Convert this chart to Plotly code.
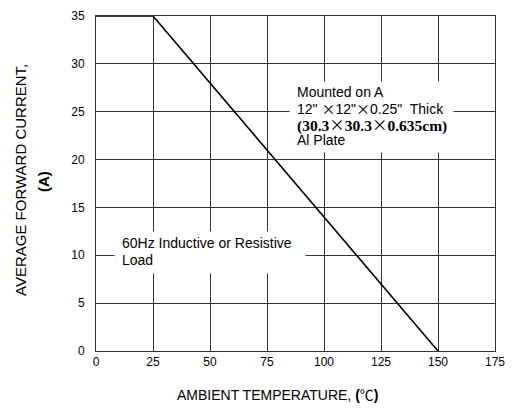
import plotly.graph_objects as go

temp = [0, 25, 150]
current = [35, 35, 0]
x_ticks = [0, 25, 50, 75, 100, 125, 150, 175]
y_ticks = [0, 5, 10, 15, 20, 25, 30, 35]

# page body has an 8px default margin; figure sized to fit the window
W, H = 509, 401
L, R, T, B = 88, 22, 8, 58
P_LEFT, P_BOTTOM = 96, 351          # plot area in page pixels
PW, PH = 399, 335


def px(x):
    return (x - P_LEFT) / PW


def py(y):
    return (P_BOTTOM - y) / PH


fig = go.Figure()
fig.add_trace(go.Scatter(x=temp, y=current, mode="lines",
                         line=dict(color="black", width=1.6), showlegend=False))

grid = "#333333"
fig.update_layout(
    width=W, height=H,
    margin=dict(l=L, r=R, t=T, b=B),
    paper_bgcolor="white", plot_bgcolor="white",
    font=dict(family="Liberation Sans, Arial, sans-serif", color="black", size=12),
    xaxis=dict(range=[0, 175], tickvals=x_ticks, showgrid=True, gridcolor=grid, gridwidth=1,
               showline=True, linecolor=grid, linewidth=1, mirror=True, zeroline=False,
               ticks="", ticklabelstandoff=0, tickfont=dict(size=12), automargin=False),
    yaxis=dict(range=[0, 35], tickvals=y_ticks, showgrid=True, gridcolor=grid, gridwidth=1,
               showline=True, linecolor=grid, linewidth=1, mirror=True, zeroline=False,
               ticks="", ticklabelstandoff=8, tickfont=dict(size=12), automargin=False),
)

X = "<span style=\"font-family:'Noto Sans CJK JP'; font-weight:normal\">×</span>"


def ann(text, x, y, size=14, xanchor="left", **kw):
    fig.add_annotation(x=px(x), y=py(y), xref="paper", yref="paper",
                       xanchor=xanchor, yanchor="middle", text=text, showarrow=False,
                       font=dict(size=size), **kw)


# white boxes behind the notes
fig.add_annotation(x=px(371.5), y=py(117), xref="paper", yref="paper", text=" ",
                   xanchor="center", yanchor="middle",
                   showarrow=False, bgcolor="white", width=163, height=70, borderpad=0)
fig.add_annotation(x=px(210), y=py(252.5), xref="paper", yref="paper", text=" ",
                   xanchor="center", yanchor="middle",
                   showarrow=False, bgcolor="white", width=190, height=41, borderpad=0)

ann("Mounted on A", 295, 92)
ann("12\" " + X + "12\"" + X + "0.25\"  Thick", 295, 108)
ann("<span style=\"font-family:'Liberation Serif', serif\"><b>(30.3" + X + "30.3" + X
    + "0.635cm)</b></span>", 295, 124, size=15.5)
ann("Al Plate", 295, 140)
ann("60Hz Inductive or Resistive", 120, 243)
ann("Load", 120, 260)

# axis titles
ann("AMBIENT TEMPERATURE, <b>(</b><span style=\"font-family:'Noto Sans CJK JP'\">℃</span><b>)</b>",
    277, 394, size=14, xanchor="center")
fig.add_annotation(x=px(21), y=py(180), xref="paper", yref="paper", text="AVERAGE FORWARD CURRENT,",
                   showarrow=False, textangle=-90, font=dict(size=15),
                   xanchor="center", yanchor="middle")
fig.add_annotation(x=px(43), y=py(182), xref="paper", yref="paper", text="<b>(A)</b>",
                   showarrow=False, textangle=-90, font=dict(size=15),
                   xanchor="center", yanchor="middle")

fig.write_html("out.html")
